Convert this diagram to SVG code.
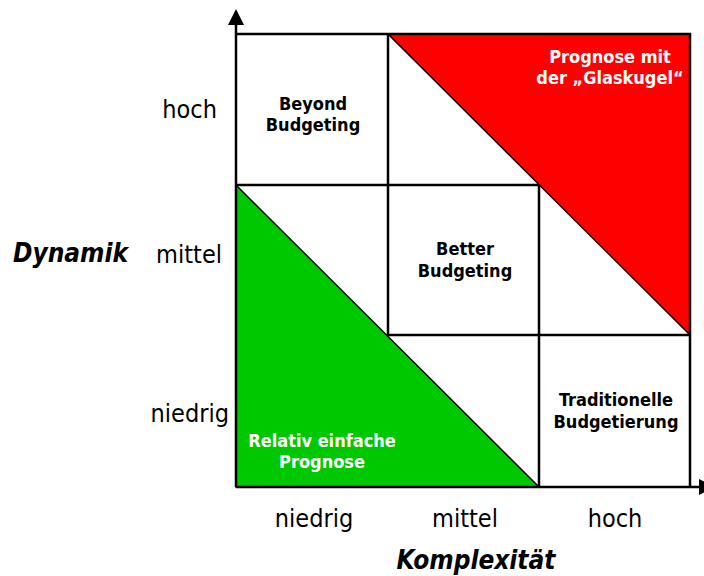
<svg xmlns="http://www.w3.org/2000/svg" width="704" height="576" viewBox="0 0 704 576">
<style>
.ln{stroke:#000;stroke-width:2.5;fill:none}
.dg{stroke:#000;stroke-width:1.5}
.ax{font-family:"DejaVu Sans Condensed","DejaVu Sans",sans-serif;font-stretch:condensed;font-size:25px;fill:#000}
.ti{font-family:"DejaVu Sans Condensed","DejaVu Sans",sans-serif;font-stretch:condensed;font-size:26px;font-weight:bold;font-style:italic;fill:#000}
.lb{font-family:"DejaVu Sans Condensed","DejaVu Sans",sans-serif;font-stretch:condensed;font-size:18px;font-weight:bold;text-anchor:middle;fill:#000}
.wh{fill:#fff}
</style>
<rect width="704" height="576" fill="#fff"/>
<g id="areas">
<polygon points="388,34 690,34 690,335" fill="#ff0000" class="dg"/>
<polygon points="236,185 236,487 539,487" fill="#00c800" class="dg"/>
</g>
<g id="connectors">
<line class="ln" x1="236" y1="487" x2="236" y2="24"/>
<polygon points="228,25 244,25 236,9" fill="#000"/>
<line class="ln" x1="236" y1="487" x2="700" y2="487"/>
<polygon points="699,479 699,495 715,487" fill="#000"/>
<path class="ln" d="M236,34H690V487M388,34V335M236,185H539M539,185V487M388,335H690"/>
</g>
<g id="node-beyond"><text class="lb"><tspan x="313" y="110">Beyond</tspan><tspan x="313" y="131">Budgeting</tspan></text></g>
<g id="node-glaskugel"><text class="lb wh"><tspan x="610" y="63">Prognose mit</tspan><tspan x="610" y="84">der „Glaskugel“</tspan></text></g>
<g id="node-better"><text class="lb"><tspan x="465" y="255">Better</tspan><tspan x="465" y="277">Budgeting</tspan></text></g>
<g id="node-traditionell"><text class="lb"><tspan x="616" y="406">Traditionelle</tspan><tspan x="616" y="428">Budgetierung</tspan></text></g>
<g id="node-relativ"><text class="lb wh"><tspan x="322" y="447">Relativ einfache</tspan><tspan x="322" y="468">Prognose</tspan></text></g>
<g id="axis-labels">
<text class="ax" x="217" y="118" text-anchor="end">hoch</text>
<text class="ax" x="222" y="263" text-anchor="end">mittel</text>
<text class="ax" x="229" y="422" text-anchor="end">niedrig</text>
<text class="ti" x="13" y="262">Dynamik</text>
<text class="ax" x="314" y="527" text-anchor="middle">niedrig</text>
<text class="ax" x="465" y="527" text-anchor="middle">mittel</text>
<text class="ax" x="615" y="527" text-anchor="middle">hoch</text>
<text class="ti" x="476" y="569" text-anchor="middle">Komplexität</text>
</g>
</svg>
